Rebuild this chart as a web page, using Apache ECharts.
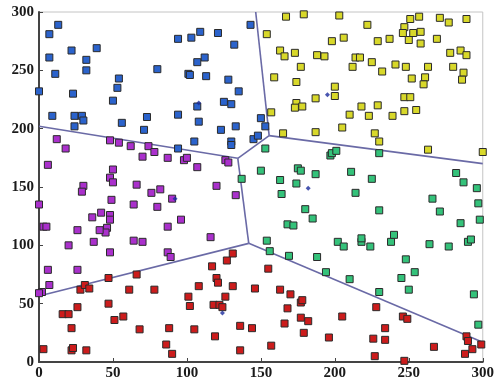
<!DOCTYPE html>
<html>
<head>
<meta charset="utf-8">
<script src="https://cdn.jsdelivr.net/npm/echarts@6/dist/echarts.min.js"></script>
<style>
  html, body { margin: 0; padding: 0; background: #fff; }
  #chart { width: 497px; height: 385px; }
</style>
</head>
<body>
<div id="chart"></div>
<script>
// tick labels
const xTicks = [0, 50, 100, 150, 200, 250, 300]
const yTicks = [0, 50, 100, 150, 200, 250, 300]

// cluster points [x, y]
const bluePts = [[13,289],[7,281],[7,261],[11,247],[22,267],[32,259],[32,250],[39,269],[0,232],[23,230],[9,211],[24,211],[29,211],[30,207],[24,202],[54,243],[53,235],[50,224],[56,205],[73,210],[71,199],[80,251],[94,277],[103,278],[109,283],[112,261],[107,257],[101,247],[102,246],[113,245],[94,212],[107,219],[108,206],[105,189],[94,183],[121,282],[132,272],[143,289],[128,242],[135,232],[125,223],[130,221],[133,202],[123,199],[130,189],[130,186],[145,191],[148,194],[150,209],[153,202]]
const yellowPts = [[167,296],[179,298],[203,297],[222,289],[154,281],[198,275],[206,278],[229,275],[237,277],[247,287],[251,294],[257,296],[246,282],[250,276],[253,282],[258,283],[258,273],[269,277],[271,295],[277,291],[289,294],[163,267],[166,262],[173,265],[188,263],[193,262],[177,253],[214,261],[217,261],[225,257],[212,253],[232,249],[241,255],[248,253],[263,253],[278,265],[285,267],[289,263],[280,253],[287,248],[286,242],[252,243],[261,244],[260,238],[159,244],[174,240],[200,236],[200,228],[187,226],[174,222],[173,218],[178,219],[157,214],[218,219],[229,220],[247,227],[251,227],[247,215],[255,216],[210,212],[223,211],[239,211],[205,201],[165,196],[187,197],[227,196],[230,189],[263,182],[300,180]]
const greenPts = [[153,183],[197,177],[198,179],[201,181],[230,179],[150,164],[175,166],[177,164],[187,161],[211,163],[225,157],[163,156],[174,153],[137,157],[282,162],[287,154],[296,149],[164,144],[214,145],[180,131],[185,123],[168,118],[172,117],[154,104],[156,95],[169,91],[188,90],[202,103],[206,99],[218,103],[218,106],[224,99],[230,130],[238,103],[240,109],[248,88],[266,140],[271,129],[264,101],[277,99],[285,119],[290,103],[292,105],[297,136],[298,122],[194,77],[210,71],[230,60],[245,72],[254,77],[250,62],[294,58],[297,32]]
const redPts = [[131,93],[127,87],[117,82],[120,72],[121,68],[131,65],[108,65],[101,56],[102,48],[126,56],[118,49],[122,49],[124,47],[146,63],[78,62],[61,62],[66,75],[47,72],[28,62],[31,66],[34,63],[47,50],[26,47],[16,41],[20,41],[22,29],[51,36],[57,39],[68,28],[88,29],[105,28],[119,22],[136,31],[144,29],[86,15],[90,7],[3,11],[22,10],[23,12],[32,10],[136,10],[155,80],[163,62],[170,58],[177,51],[178,53],[168,46],[177,38],[182,35],[166,33],[205,39],[179,25],[157,14],[196,21],[228,47],[234,29],[234,19],[226,20],[227,5],[246,39],[249,37],[247,1],[267,13],[289,22],[290,18],[293,11],[288,7],[299,15]]
const purplePts = [[12,191],[18,183],[6,169],[48,190],[54,188],[62,185],[74,185],[78,180],[70,176],[87,175],[98,173],[100,175],[107,167],[126,173],[128,171],[50,165],[48,158],[50,154],[30,151],[29,146],[66,152],[82,148],[76,145],[120,151],[133,143],[0,135],[49,139],[64,135],[80,133],[90,140],[96,122],[36,124],[42,128],[48,126],[48,122],[46,115],[45,111],[41,113],[3,116],[5,116],[26,113],[87,116],[116,107],[20,100],[37,103],[64,104],[70,103],[48,94],[87,94],[89,90],[6,79],[26,79],[7,66],[2,60],[0,59]]

// cluster centres
const centres = [[108,222],[195,229],[92,140],[182,149],[124,42]]

// boundary segments (data coords)
const edges = [
  [[0,202],[134.4,174.6]],
  [[134.4,174.6],[155.6,194]],
  [[155.6,194],[146.5,300]],
  [[155.6,194],[300,170]],
  [[134.4,174.6],[141.8,101.7]],
  [[141.8,101.7],[0,56.5]],
  [[141.8,101.7],[300,17]]
]

const labelFont = { color: '#1a1a1a', fontFamily: 'Liberation Serif', fontWeight: 'bold', fontSize: 15 }

function pointSeries (data, color) {
  return {
    type: 'scatter',
    data: data,
    symbol: 'rect',
    symbolSize: 7,
    itemStyle: { color: color, borderColor: '#2a2a2a', borderWidth: 1, opacity: 1 },
    z: 3,
    silent: true
  }
}

const series = edges.map(e => ({
  type: 'line',
  data: e,
  symbol: 'none',
  lineStyle: { color: '#6a6aa6', width: 1.6 },
  z: 2,
  silent: true
}))
series.push(pointSeries(bluePts, '#2b63cc'))
series.push(pointSeries(yellowPts, '#d8d82a'))
series.push(pointSeries(greenPts, '#34c27a'))
series.push(pointSeries(redPts, '#cc1c1c'))
series.push(pointSeries(purplePts, '#aa30cc'))
series.push({
  type: 'scatter',
  data: centres,
  symbol: 'diamond',
  symbolSize: 5,
  itemStyle: { color: '#1c2c9c' },
  z: 4,
  silent: true
})

const chart = echarts.init(document.getElementById('chart'), null, { renderer: 'canvas' })
chart.setOption({
  animation: false,
  backgroundColor: '#fff',
  grid: { left: 39, right: 8, top: 12, bottom: 23, show: true, borderColor: '#c4c4c4', borderWidth: 1 },
  xAxis: {
    type: 'value', min: xTicks[0], max: xTicks[xTicks.length - 1], interval: 50,
    axisLine: { show: true, onZero: false, lineStyle: { color: '#444', width: 2 } },
    axisTick: { show: true, inside: true, length: 4, lineStyle: { color: '#444' } },
    axisLabel: Object.assign({ margin: 4 }, labelFont),
    splitLine: { show: false }
  },
  yAxis: {
    type: 'value', min: yTicks[0], max: yTicks[yTicks.length - 1], interval: 50,
    axisLine: { show: true, onZero: false, lineStyle: { color: '#444', width: 2 } },
    axisTick: { show: true, inside: true, length: 4, lineStyle: { color: '#444' } },
    axisLabel: Object.assign({ margin: 5 }, labelFont),
    splitLine: { show: false }
  },
  series: series
})
</script>
</body>
</html>
